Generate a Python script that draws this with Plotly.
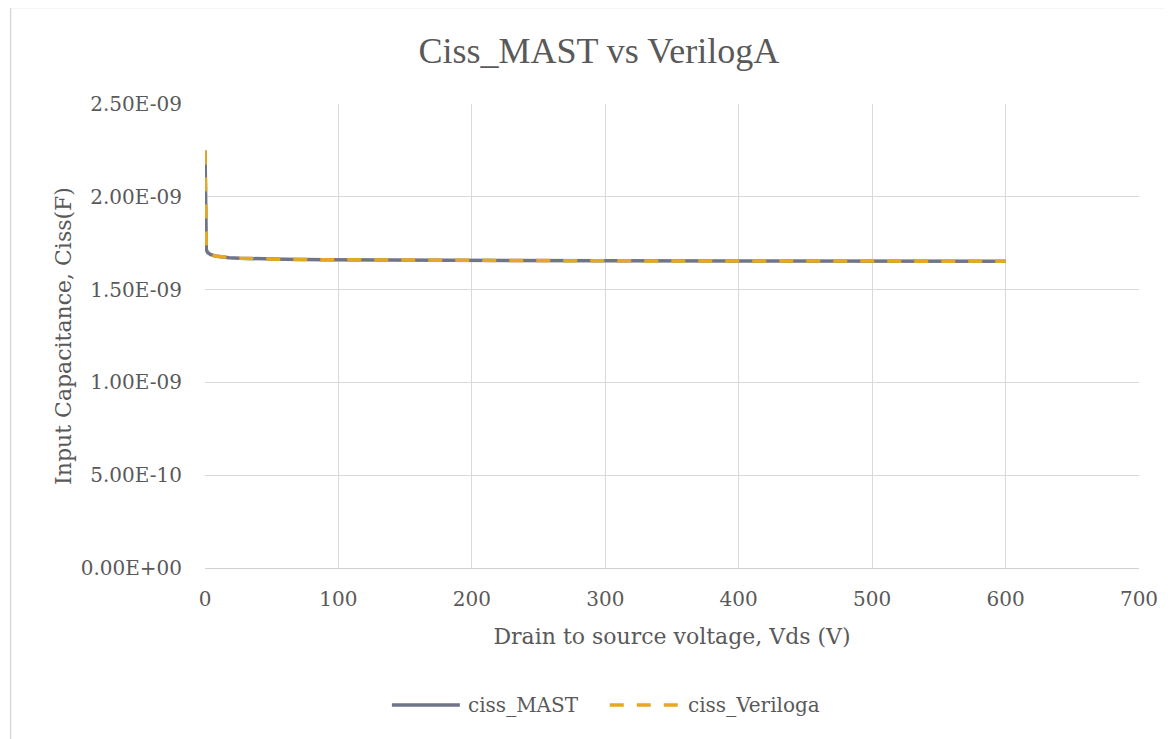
import plotly.graph_objects as go

vds = [0, 0.5, 1, 2, 4, 7.5, 12, 18, 26, 40, 60, 90, 130, 180, 250, 300, 400, 500, 600]
ciss_mast = [2.25e-9, 1.745e-9, 1.715e-9, 1.700e-9, 1.690e-9, 1.681e-9, 1.676e-9, 1.672e-9, 1.669e-9,
             1.666e-9, 1.663e-9, 1.661e-9, 1.659e-9, 1.657e-9, 1.656e-9, 1.655e-9, 1.654e-9, 1.654e-9, 1.653e-9]
ciss_veriloga = [2.25e-9, 1.745e-9, 1.715e-9, 1.700e-9, 1.690e-9, 1.681e-9, 1.676e-9, 1.672e-9, 1.669e-9,
                 1.666e-9, 1.663e-9, 1.661e-9, 1.659e-9, 1.657e-9, 1.656e-9, 1.655e-9, 1.654e-9, 1.654e-9, 1.653e-9]
series_names = ["ciss_MAST", "ciss_Veriloga"]

x_ticks = [0, 100, 200, 300, 400, 500, 600, 700]
y_ticks = [0, 5e-10, 1e-9, 1.5e-9, 2e-9, 2.5e-9]
y_tick_labels = ["0.00E+00", "5.00E-10", "1.00E-09", "1.50E-09", "2.00E-09", "2.50E-09"]

FONT = "DejaVu Serif"
TXT = "#595959"
C_MAST = "#6F7587"
C_VA = "#E6A823"
DASH = "14px,13px"

# plot area (browser window px): x 205..1139.5, y 104..568
PL, PW, PB, PH = 205.0, 934.5, 568.0, 464.0


def px(wx):
    return (wx - PL) / PW


def py(wy):
    return (PB - wy) / PH


fig = go.Figure()
fig.add_trace(go.Scatter(x=vds, y=ciss_mast, mode="lines", name=series_names[0], showlegend=False,
                         line=dict(color=C_MAST, width=3.5)))
fig.add_trace(go.Scatter(x=vds, y=ciss_veriloga, mode="lines", name=series_names[1], showlegend=False,
                         line=dict(color=C_VA, width=3.5, dash=DASH)))

fig.update_layout(
    width=1172, height=739,
    margin=dict(l=197, r=40.5, t=96, b=179),
    paper_bgcolor="white", plot_bgcolor="white",
    font=dict(family=FONT, color=TXT, size=20),
    title=dict(text="Ciss_MAST vs VerilogA", x=px(599), xanchor="center", xref="paper",
               y=1 - 42 / 739, yanchor="middle", yref="container",
               font=dict(family="Liberation Serif", size=36, color=TXT)),
    showlegend=False,
    xaxis=dict(range=[0, 700], tickvals=x_ticks, showgrid=True, gridcolor="#D9D9D9", gridwidth=1.3,
               zeroline=False, showline=True, linecolor="#D0D0D0", linewidth=1.3,
               ticks="", tickfont=dict(family=FONT, size=20, color=TXT), ticklabelstandoff=13,
               title=dict(text="Drain to source voltage, Vds (V)", standoff=18,
                          font=dict(family=FONT, size=22, color=TXT))),
    yaxis=dict(range=[0, 2.5e-9], tickvals=y_ticks, ticktext=y_tick_labels, showgrid=True,
               gridcolor="#D9D9D9", gridwidth=1.3, zeroline=False, showline=False,
               ticks="", tickfont=dict(family=FONT, size=20, color=TXT), ticklabelstandoff=22,
               title=dict(text="Input Capacitance, Ciss(F)", standoff=2,
                          font=dict(family=FONT, size=22, color=TXT))),
)

# outer chart-area border (top and left edges visible in the reference)
fig.add_shape(type="line", xref="paper", yref="paper", x0=px(10), x1=px(1200), y0=py(7.5), y1=py(7.5),
              line=dict(color="#D9D9D9", width=1.5))
fig.add_shape(type="line", xref="paper", yref="paper", x0=px(10.5), x1=px(10.5), y0=py(7.5), y1=py(760),
              line=dict(color="#D9D9D9", width=1.5))

# legend (drawn manually for the long Excel-style samples)
ly = py(705)
fig.add_shape(type="line", xref="paper", yref="paper", x0=px(392), x1=px(460), y0=ly, y1=ly,
              line=dict(color=C_MAST, width=3.5))
fig.add_shape(type="line", xref="paper", yref="paper", x0=px(610), x1=px(678), y0=ly, y1=ly,
              line=dict(color=C_VA, width=3.5, dash=DASH))
fig.add_annotation(xref="paper", yref="paper", x=px(466), y=ly, xanchor="left", yanchor="middle",
                   text=series_names[0], showarrow=False, font=dict(family=FONT, size=20, color=TXT))
fig.add_annotation(xref="paper", yref="paper", x=px(686), y=ly, xanchor="left", yanchor="middle",
                   text=series_names[1], showarrow=False, font=dict(family=FONT, size=20, color=TXT))

fig.write_html("out.html")
